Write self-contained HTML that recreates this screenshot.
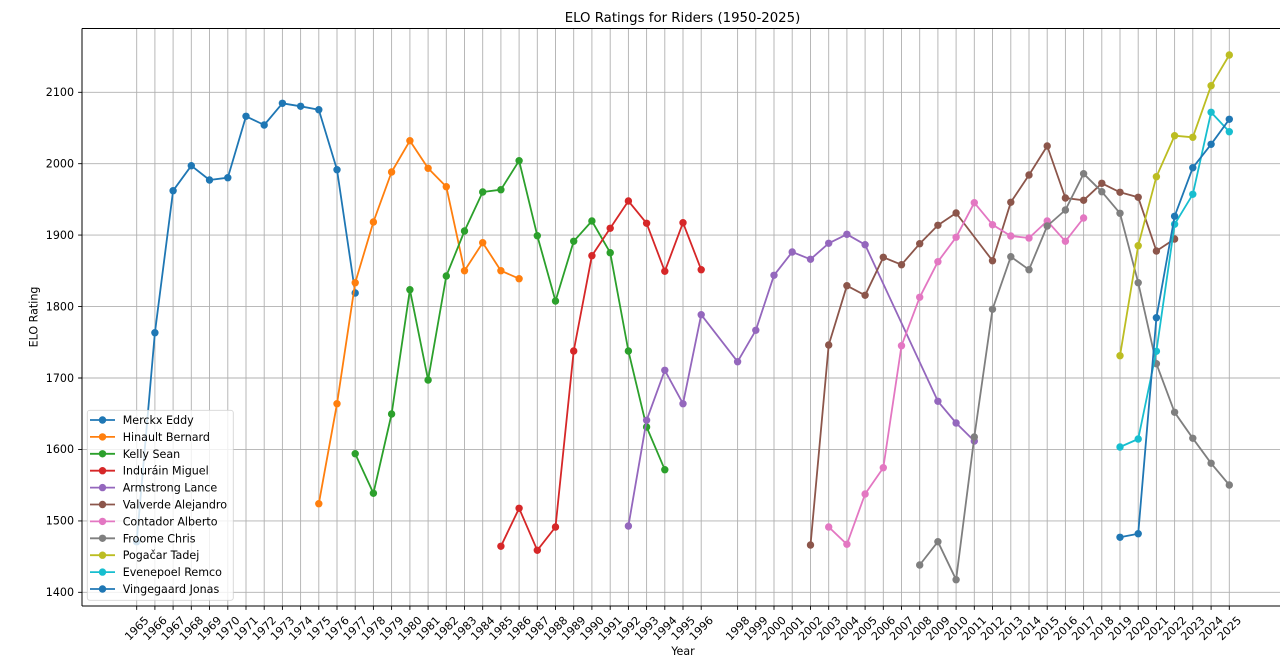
<!DOCTYPE html>
<html>
<head>
<meta charset="utf-8">
<style>
html,body{margin:0;padding:0;background:#fff;}
svg{display:block;}
text{font-family:"DejaVu Sans","Liberation Sans",sans-serif;fill:#000;}
</style>
</head>
<body>
<svg width="1280" height="661" viewBox="0 0 1280 661" xmlns="http://www.w3.org/2000/svg">
<defs>
<marker id="c0" viewBox="-4 -4 8 8" markerWidth="8" markerHeight="8" markerUnits="userSpaceOnUse"><circle r="3.7" fill="#1f77b4"/></marker>
<marker id="c1" viewBox="-4 -4 8 8" markerWidth="8" markerHeight="8" markerUnits="userSpaceOnUse"><circle r="3.7" fill="#ff7f0e"/></marker>
<marker id="c2" viewBox="-4 -4 8 8" markerWidth="8" markerHeight="8" markerUnits="userSpaceOnUse"><circle r="3.7" fill="#2ca02c"/></marker>
<marker id="c3" viewBox="-4 -4 8 8" markerWidth="8" markerHeight="8" markerUnits="userSpaceOnUse"><circle r="3.7" fill="#d62728"/></marker>
<marker id="c4" viewBox="-4 -4 8 8" markerWidth="8" markerHeight="8" markerUnits="userSpaceOnUse"><circle r="3.7" fill="#9467bd"/></marker>
<marker id="c5" viewBox="-4 -4 8 8" markerWidth="8" markerHeight="8" markerUnits="userSpaceOnUse"><circle r="3.7" fill="#8c564b"/></marker>
<marker id="c6" viewBox="-4 -4 8 8" markerWidth="8" markerHeight="8" markerUnits="userSpaceOnUse"><circle r="3.7" fill="#e377c2"/></marker>
<marker id="c7" viewBox="-4 -4 8 8" markerWidth="8" markerHeight="8" markerUnits="userSpaceOnUse"><circle r="3.7" fill="#7f7f7f"/></marker>
<marker id="c8" viewBox="-4 -4 8 8" markerWidth="8" markerHeight="8" markerUnits="userSpaceOnUse"><circle r="3.7" fill="#bcbd22"/></marker>
<marker id="c9" viewBox="-4 -4 8 8" markerWidth="8" markerHeight="8" markerUnits="userSpaceOnUse"><circle r="3.7" fill="#17becf"/></marker>
</defs>

<!-- title -->
<text x="682.5" y="22" font-size="13.3" text-anchor="middle">ELO Ratings for Riders (1950-2025)</text>

<!-- grid -->
<g stroke="#b0b0b0" stroke-width="0.9" fill="none">
<path d="M82 592.3H1280M82 520.9H1280M82 449.4H1280M82 378H1280M82 306.6H1280M82 235.1H1280M82 163.7H1280M82 92.3H1280"/>
<path d="M136.7 28.5V606M154.9 28.5V606M173.1 28.5V606M191.3 28.5V606M209.5 28.5V606M227.8 28.5V606M246 28.5V606M264.2 28.5V606M282.4 28.5V606M300.6 28.5V606M318.8 28.5V606M337 28.5V606M355.2 28.5V606M373.4 28.5V606M391.6 28.5V606M409.9 28.5V606M428.1 28.5V606M446.3 28.5V606M464.5 28.5V606M482.7 28.5V606M500.9 28.5V606M519.1 28.5V606M537.3 28.5V606M555.5 28.5V606M573.7 28.5V606M591.9 28.5V606M610.2 28.5V606M628.4 28.5V606M646.6 28.5V606M664.8 28.5V606M683 28.5V606M701.2 28.5V606M737.6 28.5V606M755.8 28.5V606M774 28.5V606M792.2 28.5V606M810.5 28.5V606M828.7 28.5V606M846.9 28.5V606M865.1 28.5V606M883.3 28.5V606M901.5 28.5V606M919.7 28.5V606M937.9 28.5V606M956.1 28.5V606M974.3 28.5V606M992.5 28.5V606M1010.8 28.5V606M1029 28.5V606M1047.2 28.5V606M1065.4 28.5V606M1083.6 28.5V606M1101.8 28.5V606M1120 28.5V606M1138.2 28.5V606M1156.4 28.5V606M1174.6 28.5V606M1192.8 28.5V606M1211.1 28.5V606M1229.3 28.5V606"/>
</g>

<!-- series -->
<g fill="none" stroke-width="1.8" stroke-linejoin="round">
<polyline stroke="#1f77b4" marker-start="url(#c0)" marker-mid="url(#c0)" marker-end="url(#c0)" points="136.7,541.7 154.9,332.7 173.1,190.7 191.3,165.7 209.5,180 227.8,177.7 246,116.3 264.2,125 282.4,103.3 300.6,106.3 318.8,109.7 337,169.7 355.2,293"/>
<polyline stroke="#ff7f0e" marker-start="url(#c1)" marker-mid="url(#c1)" marker-end="url(#c1)" points="318.8,503.7 337,403.7 355.2,282.7 373.4,222 391.6,172 409.9,140.7 428.1,168.3 446.3,186.7 464.5,270.7 482.7,242.7 500.9,270.7 519.1,278.7"/>
<polyline stroke="#2ca02c" marker-start="url(#c2)" marker-mid="url(#c2)" marker-end="url(#c2)" points="355.2,453.7 373.4,493.3 391.6,414 409.9,289.7 428.1,380 446.3,276 464.5,231 482.7,192 500.9,189.7 519.1,160.7 537.3,235.7 555.5,301 573.7,241.3 591.9,221 610.2,252.7 628.4,351 646.6,427 664.8,469.7"/>
<polyline stroke="#d62728" marker-start="url(#c3)" marker-mid="url(#c3)" marker-end="url(#c3)" points="500.9,546.3 519.1,508.3 537.3,550.3 555.5,527 573.7,351 591.9,255.7 610.2,228.3 628.4,201 646.6,223.3 664.8,271.3 683,222.7 701.2,269.7"/>
<polyline stroke="#9467bd" marker-start="url(#c4)" marker-mid="url(#c4)" marker-end="url(#c4)" points="628.4,526 646.6,420.3 664.8,370.3 683,403.7 701.2,314.7 737.6,361.7 755.8,330.3 774,275.3 792.2,252 810.5,259.3 828.7,243.3 846.9,234.3 865.1,244.7 937.9,401.3 956.1,423 974.3,441"/>
<polyline stroke="#8c564b" marker-start="url(#c5)" marker-mid="url(#c5)" marker-end="url(#c5)" points="810.5,545 828.7,345 846.9,285.7 865.1,295.3 883.3,257.3 901.5,264.7 919.7,243.7 937.9,225.3 956.1,213 992.5,260.7 1010.8,202.3 1029,175 1047.2,146 1065.4,198 1083.6,200.3 1101.8,183.3 1120,192.3 1138.2,197.3 1156.4,251 1174.6,239"/>
<polyline stroke="#e377c2" marker-start="url(#c6)" marker-mid="url(#c6)" marker-end="url(#c6)" points="828.7,527 846.9,544.3 865.1,494 883.3,467.7 901.5,345.7 919.7,297.3 937.9,261.7 956.1,237.3 974.3,202.7 992.5,224.7 1010.8,236 1029,238 1047.2,221 1065.4,241.3 1083.6,218"/>
<polyline stroke="#7f7f7f" marker-start="url(#c7)" marker-mid="url(#c7)" marker-end="url(#c7)" points="919.7,565 937.9,541.7 956.1,579.7 974.3,437 992.5,309.3 1010.8,256.7 1029,269.7 1047.2,226 1065.4,210 1083.6,173.7 1101.8,191.7 1120,213.3 1138.2,282.7 1156.4,363.7 1174.6,412.3 1192.8,438.3 1211.1,463.3 1229.3,485"/>
<polyline stroke="#bcbd22" marker-start="url(#c8)" marker-mid="url(#c8)" marker-end="url(#c8)" points="1120,355.7 1138.2,245.7 1156.4,176.7 1174.6,135.7 1192.8,137.3 1211.1,85.7 1229.3,55"/>
<polyline stroke="#17becf" marker-start="url(#c9)" marker-mid="url(#c9)" marker-end="url(#c9)" points="1120,447 1138.2,439 1156.4,351.3 1174.6,224.3 1192.8,194.3 1211.1,112.3 1229.3,131.7"/>
<polyline stroke="#1f77b4" marker-start="url(#c0)" marker-mid="url(#c0)" marker-end="url(#c0)" points="1120,537.3 1138.2,533.7 1156.4,317.7 1174.6,216.3 1192.8,167.7 1211.1,144.3 1229.3,119.3"/>
</g>

<!-- spines -->
<g stroke="#000" stroke-width="1" fill="none">
<path d="M82 28.5H1280M82 28.5V606M82 606H1280"/>
</g>

<!-- y ticks -->
<g stroke="#000" stroke-width="0.9">
<path d="M78.1 592.3H82M78.1 520.9H82M78.1 449.4H82M78.1 378H82M78.1 306.6H82M78.1 235.1H82M78.1 163.7H82M78.1 92.3H82"/>
</g>
<g font-size="11.1" text-anchor="end">
<text x="74" y="596.1">1400</text>
<text x="74" y="524.7">1500</text>
<text x="74" y="453.2">1600</text>
<text x="74" y="381.8">1700</text>
<text x="74" y="310.4">1800</text>
<text x="74" y="238.9">1900</text>
<text x="74" y="167.5">2000</text>
<text x="74" y="96.1">2100</text>
</g>

<!-- x ticks -->
<g stroke="#000" stroke-width="0.9">
<path d="M136.7 606V609.9M154.9 606V609.9M173.1 606V609.9M191.3 606V609.9M209.5 606V609.9M227.8 606V609.9M246 606V609.9M264.2 606V609.9M282.4 606V609.9M300.6 606V609.9M318.8 606V609.9M337 606V609.9M355.2 606V609.9M373.4 606V609.9M391.6 606V609.9M409.9 606V609.9M428.1 606V609.9M446.3 606V609.9M464.5 606V609.9M482.7 606V609.9M500.9 606V609.9M519.1 606V609.9M537.3 606V609.9M555.5 606V609.9M573.7 606V609.9M591.9 606V609.9M610.2 606V609.9M628.4 606V609.9M646.6 606V609.9M664.8 606V609.9M683 606V609.9M701.2 606V609.9M737.6 606V609.9M755.8 606V609.9M774 606V609.9M792.2 606V609.9M810.5 606V609.9M828.7 606V609.9M846.9 606V609.9M865.1 606V609.9M883.3 606V609.9M901.5 606V609.9M919.7 606V609.9M937.9 606V609.9M956.1 606V609.9M974.3 606V609.9M992.5 606V609.9M1010.8 606V609.9M1029 606V609.9M1047.2 606V609.9M1065.4 606V609.9M1083.6 606V609.9M1101.8 606V609.9M1120 606V609.9M1138.2 606V609.9M1156.4 606V609.9M1174.6 606V609.9M1192.8 606V609.9M1211.1 606V609.9M1229.3 606V609.9"/>
</g>
<g font-size="11.1" text-anchor="middle">
<text transform="translate(136.7,628.3) rotate(-45)" dy="3.8">1965</text>
<text transform="translate(154.9,628.3) rotate(-45)" dy="3.8">1966</text>
<text transform="translate(173.1,628.3) rotate(-45)" dy="3.8">1967</text>
<text transform="translate(191.3,628.3) rotate(-45)" dy="3.8">1968</text>
<text transform="translate(209.5,628.3) rotate(-45)" dy="3.8">1969</text>
<text transform="translate(227.8,628.3) rotate(-45)" dy="3.8">1970</text>
<text transform="translate(246,628.3) rotate(-45)" dy="3.8">1971</text>
<text transform="translate(264.2,628.3) rotate(-45)" dy="3.8">1972</text>
<text transform="translate(282.4,628.3) rotate(-45)" dy="3.8">1973</text>
<text transform="translate(300.6,628.3) rotate(-45)" dy="3.8">1974</text>
<text transform="translate(318.8,628.3) rotate(-45)" dy="3.8">1975</text>
<text transform="translate(337,628.3) rotate(-45)" dy="3.8">1976</text>
<text transform="translate(355.2,628.3) rotate(-45)" dy="3.8">1977</text>
<text transform="translate(373.4,628.3) rotate(-45)" dy="3.8">1978</text>
<text transform="translate(391.6,628.3) rotate(-45)" dy="3.8">1979</text>
<text transform="translate(409.9,628.3) rotate(-45)" dy="3.8">1980</text>
<text transform="translate(428.1,628.3) rotate(-45)" dy="3.8">1981</text>
<text transform="translate(446.3,628.3) rotate(-45)" dy="3.8">1982</text>
<text transform="translate(464.5,628.3) rotate(-45)" dy="3.8">1983</text>
<text transform="translate(482.7,628.3) rotate(-45)" dy="3.8">1984</text>
<text transform="translate(500.9,628.3) rotate(-45)" dy="3.8">1985</text>
<text transform="translate(519.1,628.3) rotate(-45)" dy="3.8">1986</text>
<text transform="translate(537.3,628.3) rotate(-45)" dy="3.8">1987</text>
<text transform="translate(555.5,628.3) rotate(-45)" dy="3.8">1988</text>
<text transform="translate(573.7,628.3) rotate(-45)" dy="3.8">1989</text>
<text transform="translate(591.9,628.3) rotate(-45)" dy="3.8">1990</text>
<text transform="translate(610.2,628.3) rotate(-45)" dy="3.8">1991</text>
<text transform="translate(628.4,628.3) rotate(-45)" dy="3.8">1992</text>
<text transform="translate(646.6,628.3) rotate(-45)" dy="3.8">1993</text>
<text transform="translate(664.8,628.3) rotate(-45)" dy="3.8">1994</text>
<text transform="translate(683,628.3) rotate(-45)" dy="3.8">1995</text>
<text transform="translate(701.2,628.3) rotate(-45)" dy="3.8">1996</text>
<text transform="translate(737.6,628.3) rotate(-45)" dy="3.8">1998</text>
<text transform="translate(755.8,628.3) rotate(-45)" dy="3.8">1999</text>
<text transform="translate(774,628.3) rotate(-45)" dy="3.8">2000</text>
<text transform="translate(792.2,628.3) rotate(-45)" dy="3.8">2001</text>
<text transform="translate(810.5,628.3) rotate(-45)" dy="3.8">2002</text>
<text transform="translate(828.7,628.3) rotate(-45)" dy="3.8">2003</text>
<text transform="translate(846.9,628.3) rotate(-45)" dy="3.8">2004</text>
<text transform="translate(865.1,628.3) rotate(-45)" dy="3.8">2005</text>
<text transform="translate(883.3,628.3) rotate(-45)" dy="3.8">2006</text>
<text transform="translate(901.5,628.3) rotate(-45)" dy="3.8">2007</text>
<text transform="translate(919.7,628.3) rotate(-45)" dy="3.8">2008</text>
<text transform="translate(937.9,628.3) rotate(-45)" dy="3.8">2009</text>
<text transform="translate(956.1,628.3) rotate(-45)" dy="3.8">2010</text>
<text transform="translate(974.3,628.3) rotate(-45)" dy="3.8">2011</text>
<text transform="translate(992.5,628.3) rotate(-45)" dy="3.8">2012</text>
<text transform="translate(1010.8,628.3) rotate(-45)" dy="3.8">2013</text>
<text transform="translate(1029,628.3) rotate(-45)" dy="3.8">2014</text>
<text transform="translate(1047.2,628.3) rotate(-45)" dy="3.8">2015</text>
<text transform="translate(1065.4,628.3) rotate(-45)" dy="3.8">2016</text>
<text transform="translate(1083.6,628.3) rotate(-45)" dy="3.8">2017</text>
<text transform="translate(1101.8,628.3) rotate(-45)" dy="3.8">2018</text>
<text transform="translate(1120,628.3) rotate(-45)" dy="3.8">2019</text>
<text transform="translate(1138.2,628.3) rotate(-45)" dy="3.8">2020</text>
<text transform="translate(1156.4,628.3) rotate(-45)" dy="3.8">2021</text>
<text transform="translate(1174.6,628.3) rotate(-45)" dy="3.8">2022</text>
<text transform="translate(1192.8,628.3) rotate(-45)" dy="3.8">2023</text>
<text transform="translate(1211.1,628.3) rotate(-45)" dy="3.8">2024</text>
<text transform="translate(1229.3,628.3) rotate(-45)" dy="3.8">2025</text>
</g>

<!-- axis labels -->
<text x="683" y="655" font-size="11.1" text-anchor="middle">Year</text>
<text transform="translate(37.3,317) rotate(-90)" font-size="11.1" text-anchor="middle">ELO Rating</text>

<!-- legend -->
<rect x="87.3" y="410.3" width="146" height="190" rx="2.5" ry="2.5" fill="#fff" fill-opacity="0.8" stroke="#cccccc" stroke-opacity="0.8" stroke-width="0.9"/>
<g stroke-width="1.8">
<line x1="90" y1="420" x2="115" y2="420" stroke="#1f77b4"/><circle cx="102.5" cy="420" r="3.7" fill="#1f77b4"/>
<line x1="90" y1="436.9" x2="115" y2="436.9" stroke="#ff7f0e"/><circle cx="102.5" cy="436.9" r="3.7" fill="#ff7f0e"/>
<line x1="90" y1="453.8" x2="115" y2="453.8" stroke="#2ca02c"/><circle cx="102.5" cy="453.8" r="3.7" fill="#2ca02c"/>
<line x1="90" y1="470.7" x2="115" y2="470.7" stroke="#d62728"/><circle cx="102.5" cy="470.7" r="3.7" fill="#d62728"/>
<line x1="90" y1="487.6" x2="115" y2="487.6" stroke="#9467bd"/><circle cx="102.5" cy="487.6" r="3.7" fill="#9467bd"/>
<line x1="90" y1="504.5" x2="115" y2="504.5" stroke="#8c564b"/><circle cx="102.5" cy="504.5" r="3.7" fill="#8c564b"/>
<line x1="90" y1="521.4" x2="115" y2="521.4" stroke="#e377c2"/><circle cx="102.5" cy="521.4" r="3.7" fill="#e377c2"/>
<line x1="90" y1="538.3" x2="115" y2="538.3" stroke="#7f7f7f"/><circle cx="102.5" cy="538.3" r="3.7" fill="#7f7f7f"/>
<line x1="90" y1="555.2" x2="115" y2="555.2" stroke="#bcbd22"/><circle cx="102.5" cy="555.2" r="3.7" fill="#bcbd22"/>
<line x1="90" y1="572.1" x2="115" y2="572.1" stroke="#17becf"/><circle cx="102.5" cy="572.1" r="3.7" fill="#17becf"/>
<line x1="90" y1="589" x2="115" y2="589" stroke="#1f77b4"/><circle cx="102.5" cy="589" r="3.7" fill="#1f77b4"/>
</g>
<g font-size="11.1">
<text x="122.7" y="424">Merckx Eddy</text>
<text x="122.7" y="440.9">Hinault Bernard</text>
<text x="122.7" y="457.8">Kelly Sean</text>
<text x="122.7" y="474.7">Induráin Miguel</text>
<text x="122.7" y="491.6">Armstrong Lance</text>
<text x="122.7" y="508.5">Valverde Alejandro</text>
<text x="122.7" y="525.4">Contador Alberto</text>
<text x="122.7" y="542.3">Froome Chris</text>
<text x="122.7" y="559.2">Pogačar Tadej</text>
<text x="122.7" y="576.1">Evenepoel Remco</text>
<text x="122.7" y="593">Vingegaard Jonas</text>
</g>
</svg>
</body>
</html>
